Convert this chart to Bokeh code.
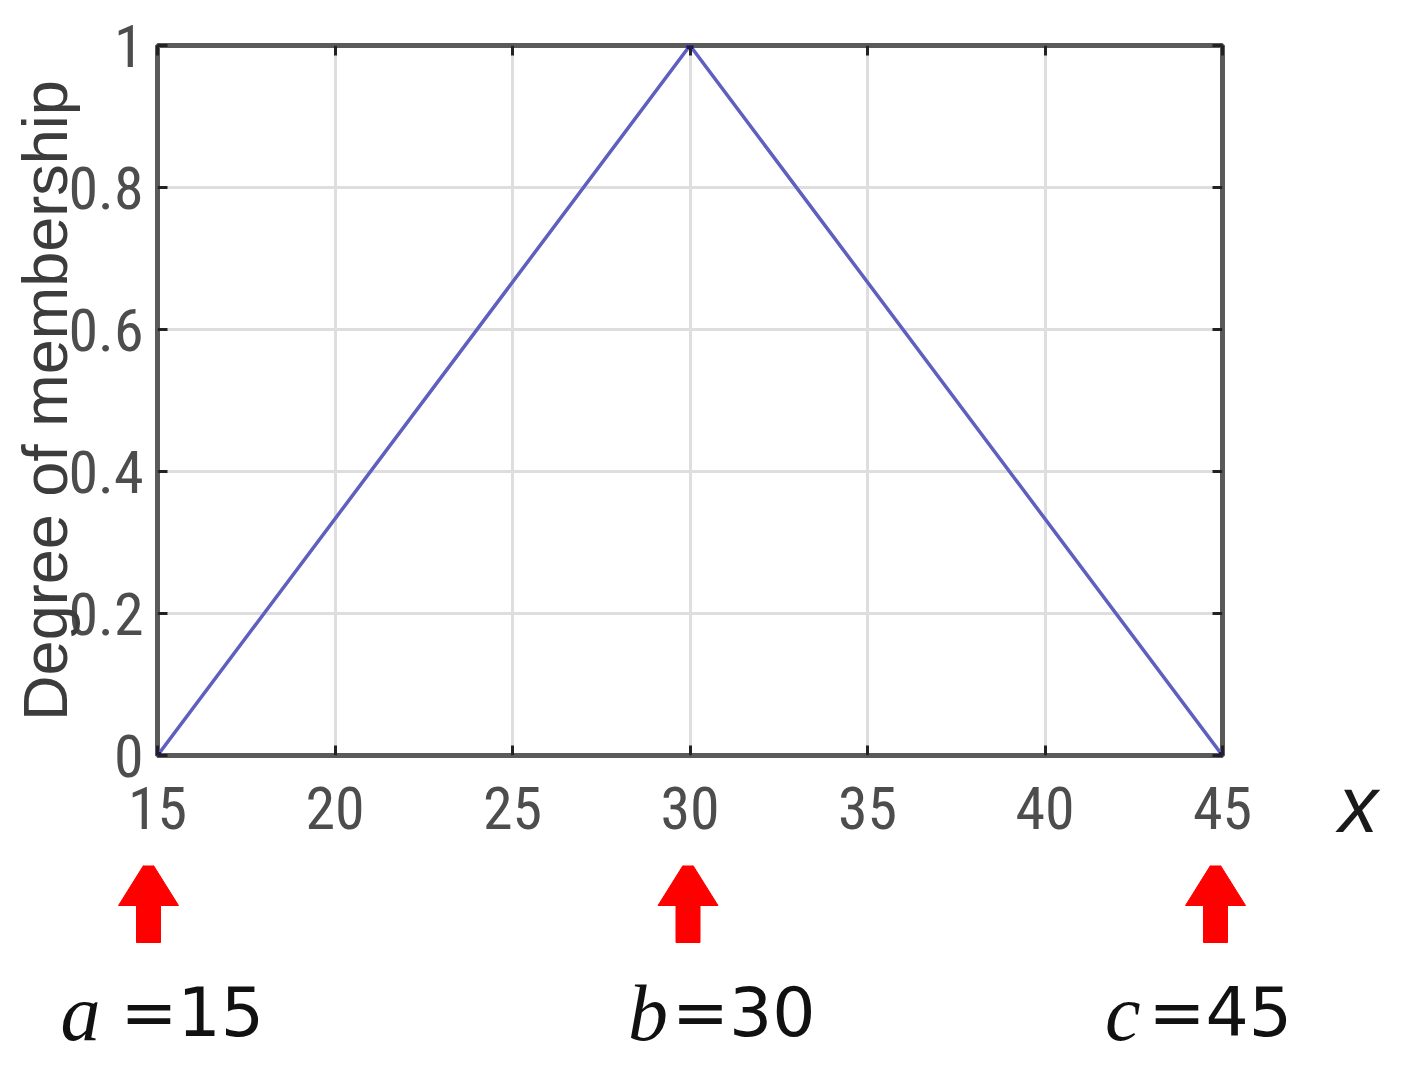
from bokeh.plotting import figure
from bokeh.layouts import column, row
from bokeh.models import Range1d, LinearAxis, ColumnDataSource, FixedTicker
from bokeh.core.properties import value
from bokeh.embed import file_html
from bokeh.resources import INLINE

# ---- data ----
x_points = [15, 30, 45]
membership = [0, 1, 0]
x_ticks = [15, 20, 25, 30, 35, 40, 45]
y_ticks = [0, 0.2, 0.4, 0.6, 0.8, 1]
y_tick_labels = ["0", "0.2", "0.4", "0.6", "0.8", "1"]
x_symbol = "x"
param_names = ["a", "b", "c"]
param_values = [15, 30, 45]

# ---- layout ----
W = 1390
W_MAIN = 1255
H_TOP = 865
H_BOT = 196
LEFT, TOP = 157, 45
FRAME_RIGHT = 1222
FRAME_BOTTOM = 755
X0, X1 = 15, 45
eq_dx = [-37, -18, -74]       # px offsets of "=value" texts
letter_dx = [-57, -22, -82]   # px offsets of italic letters (right edge)
arrow_dx = [-9, -2, -7]       # px offsets of the arrows
TEXT_Y = -147                 # baseline of the parameter labels in the lower panel
HEAD_TIP, HEAD_BASE, SHAFT_END = -(857 - H_TOP), -(905 - H_TOP), -(942 - H_TOP)
HEAD_HALF, SHAFT_HALF = 30, 12

TICK_FONT = "Liberation Sans Narrow, Roboto Condensed, Liberation Sans"


def blank(fig):
    fig.axis.visible = False
    fig.grid.visible = False
    fig.outline_line_color = None
    fig.background_fill_color = "white"
    fig.border_fill_color = "white"


p = figure(width=W_MAIN, height=H_TOP, output_backend="svg", toolbar_location=None,
           x_range=Range1d(X0, X1), y_range=Range1d(0, 1),
           min_border_left=LEFT, min_border_right=W_MAIN - FRAME_RIGHT,
           min_border_top=TOP, min_border_bottom=H_TOP - FRAME_BOTTOM)
p.frame_align = False
p.background_fill_color = "white"
p.border_fill_color = "white"
p.outline_line_color = "#5a5a5a"
p.outline_line_width = 5

p.line(x_points, membership, line_color="#5f5fc0", line_width=3.5)
p.scatter(x_points, membership, marker="square", size=6, color="#10108f")

for ax in (p.xaxis[0], p.yaxis[0]):
    ax.axis_line_color = None
    ax.major_tick_in = 10
    ax.major_tick_out = 0
    ax.major_tick_line_color = "#222222"
    ax.major_tick_line_width = 3
    ax.minor_tick_line_color = None
    ax.major_label_text_font = TICK_FONT
    ax.major_label_text_font_size = "60px"
    ax.major_label_text_color = "#4d4d4d"

p.xaxis.ticker = FixedTicker(ticks=x_ticks)
p.yaxis.ticker = FixedTicker(ticks=y_ticks)
p.yaxis.major_label_overrides = {t: l for t, l in zip(y_ticks, y_tick_labels)}
p.xaxis.major_label_standoff = 31
p.yaxis.major_label_standoff = 14
p.yaxis.axis_label = "Degree of membership"
p.yaxis.axis_label_text_font = "Liberation Sans"
p.yaxis.axis_label_text_font_style = "normal"
p.yaxis.axis_label_text_font_size = "63px"
p.yaxis.axis_label_text_color = "#3c3c3c"
p.yaxis.axis_label_standoff = -15

# mirrored tick marks on right and top
for side, tick in (("right", y_ticks), ("above", x_ticks)):
    ax = LinearAxis(ticker=FixedTicker(ticks=tick))
    ax.axis_line_color = None
    ax.major_tick_in = 10
    ax.major_tick_out = 0
    ax.major_tick_line_color = "#222222"
    ax.major_tick_line_width = 3
    ax.minor_tick_line_color = None
    ax.major_label_text_font_size = "1px"
    ax.major_label_text_color = None
    ax.major_label_standoff = 0
    p.add_layout(ax, side)

p.xgrid.ticker = FixedTicker(ticks=x_ticks)
p.ygrid.ticker = FixedTicker(ticks=y_ticks)
p.grid.grid_line_color = "#dedede"
p.grid.grid_line_width = 3

# ---- right strip: the italic axis symbol "x" ----
W_X = W - W_MAIN
px = figure(width=W_X, height=H_TOP, output_backend="svg", toolbar_location=None,
            x_range=Range1d(0, W_X), y_range=Range1d(-H_TOP, 0), min_border=0)
px.frame_align = False
blank(px)
px.text(x=[1338 - W_MAIN], y=[-804], text=[x_symbol],
        text_font=value("Liberation Sans"), text_font_style="italic",
        text_font_size="79px", text_color="#1a1a1a",
        text_align="left", text_baseline="alphabetic")

# ---- lower panel: arrows and parameter labels (same horizontal scale) ----
ppu = (FRAME_RIGHT - LEFT) / (X1 - X0)
p2 = figure(width=W, height=H_BOT, output_backend="svg", toolbar_location=None,
            x_range=Range1d(X0 - LEFT / ppu, X1 + (W - FRAME_RIGHT) / ppu),
            y_range=Range1d(-H_BOT, 0), min_border=0)
p2.frame_align = False
blank(p2)

arrow_xs, arrow_ys = [], []
for v, d in zip(param_values, arrow_dx):
    c = v + d / ppu
    h, s = HEAD_HALF / ppu, SHAFT_HALF / ppu
    arrow_xs.append([c, c + h, c + s, c + s, c - s, c - s, c - h])
    arrow_ys.append([HEAD_TIP, HEAD_BASE, HEAD_BASE, SHAFT_END, SHAFT_END, HEAD_BASE, HEAD_BASE])
p2.patches(arrow_xs, arrow_ys, fill_color="#ff0000", line_color="#ff0000", line_width=1)

src = ColumnDataSource(dict(x=param_values, letter=param_names,
                            eq=["=%d" % v for v in param_values],
                            ldx=letter_dx, edx=eq_dx))
p2.text(x="x", y=TEXT_Y, text="letter", x_offset="ldx", source=src,
        text_font=value("Liberation Serif"), text_font_style="italic",
        text_font_size="80px", text_color="#111111",
        text_align="right", text_baseline="alphabetic")
p2.text(x="x", y=TEXT_Y, text="eq", x_offset="edx", source=src,
        text_font=value("DejaVu Sans"), text_font_size="68px", text_color="#111111",
        text_align="left", text_baseline="alphabetic")

layout = column(row(p, px, spacing=0), p2, spacing=0)
open("out.html", "w").write(file_html(layout, INLINE))
